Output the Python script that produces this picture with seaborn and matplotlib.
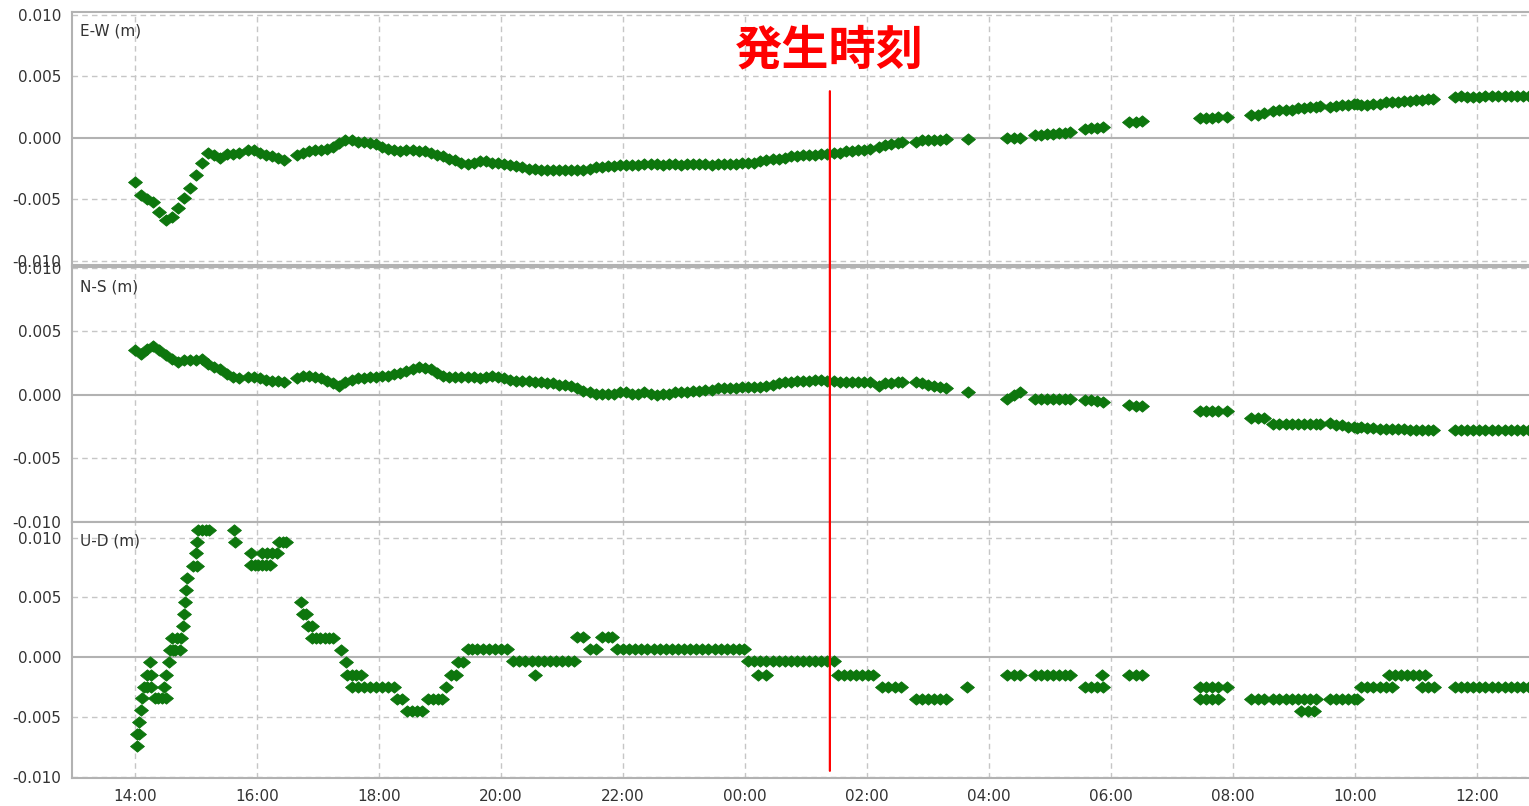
import matplotlib
matplotlib.use("Agg")
import matplotlib.pyplot as plt
import seaborn as sns
import pandas as pd
from matplotlib.patches import ConnectionPatch

# Times are hours from 00:00 of the first day (24 = 00:00, 36 = 12:00 next day).
# Displacements are in metres.

EW_T = [14.0, 14.1, 14.2, 14.3, 14.4, 14.5, 14.6, 14.7, 14.8, 14.9, 15.0, 15.1, 15.2, 15.3, 15.4, 15.5, 15.6, 15.7,
        15.85, 15.95, 16.05, 16.15, 16.25, 16.35, 16.45,
        16.65, 16.75, 16.85, 16.95, 17.05, 17.15, 17.25, 17.35, 17.45, 17.55, 17.65, 17.75, 17.85, 17.95,
        18.05, 18.15, 18.25, 18.35, 18.45, 18.55, 18.65, 18.75, 18.85, 18.95, 19.05, 19.15, 19.25, 19.35,
        19.45, 19.55, 19.65, 19.75, 19.85, 19.95, 20.05, 20.15, 20.25, 20.35, 20.45, 20.55, 20.65, 20.75,
        20.85, 20.95, 21.05, 21.15, 21.25, 21.35, 21.45, 21.55, 21.65, 21.75, 21.85, 21.95, 22.05, 22.15,
        22.25, 22.35, 22.45, 22.55, 22.65, 22.75, 22.85, 22.95, 23.05, 23.15, 23.25, 23.35, 23.45, 23.55,
        23.65, 23.75, 23.85, 23.95, 24.05, 24.15, 24.25, 24.35, 24.45, 24.55, 24.65, 24.75, 24.85, 24.95,
        25.05, 25.15, 25.25, 25.35, 25.45, 25.55, 25.65, 25.75, 25.85, 25.95, 26.05,
        26.2, 26.3, 26.4, 26.5, 26.58,
        26.8, 26.9, 27.0, 27.1, 27.2, 27.3,
        27.65,
        28.3, 28.4, 28.5,
        28.75, 28.85, 28.95, 29.05, 29.15, 29.25, 29.33,
        29.57, 29.67, 29.77, 29.87,
        30.3, 30.4, 30.5,
        31.46, 31.56, 31.66, 31.76,
        31.9,
        32.3, 32.4, 32.5,
        32.66, 32.76, 32.86, 32.96, 33.06, 33.16, 33.26, 33.36, 33.43,
        33.58, 33.68, 33.78, 33.88, 33.98, 34.03,
        34.1, 34.2, 34.3, 34.4, 34.5, 34.6, 34.7, 34.8, 34.9, 35.0, 35.1, 35.2, 35.28,
        35.63, 35.73, 35.83, 35.93, 36.03, 36.13,
        36.25, 36.35, 36.45, 36.55, 36.65, 36.75, 36.85]
EW_V = [-0.0036, -0.0046, -0.0050, -0.0052, -0.0060, -0.0067, -0.0064, -0.0057, -0.0049, -0.0041, -0.0030,
        -0.0020, -0.0012, -0.0014, -0.0016, -0.0013, -0.0013, -0.0012,
        -0.0010, -0.0010, -0.0012, -0.0014, -0.0015, -0.0016, -0.0018,
        -0.0014, -0.0012, -0.0011, -0.0010, -0.0010, -0.0009, -0.0007, -0.0004, -0.0002, -0.0002, -0.0003,
        -0.0003, -0.0004, -0.0005,
        -0.0007, -0.0009, -0.0010, -0.0011, -0.0010, -0.0010, -0.0011, -0.0011, -0.0012, -0.0014, -0.0015,
        -0.0017, -0.0018, -0.0020,
        -0.0021, -0.0020, -0.0019, -0.0019, -0.0020, -0.0020, -0.0021, -0.0022, -0.0023, -0.0024, -0.0025,
        -0.0025, -0.0026, -0.0026,
        -0.0026, -0.0026, -0.0026, -0.0026, -0.0026, -0.0026, -0.0025, -0.0024, -0.0024, -0.0023, -0.0023,
        -0.0022, -0.0022, -0.0022,
        -0.0022, -0.0021, -0.0021, -0.0021, -0.0022, -0.0021, -0.0021, -0.0022, -0.0021, -0.0021, -0.0021,
        -0.0021, -0.0022, -0.0021,
        -0.0021, -0.0021, -0.0021, -0.0020, -0.0020, -0.0020, -0.0019, -0.0018, -0.0017, -0.0017, -0.0016,
        -0.0015, -0.0015, -0.0014,
        -0.0014, -0.0014, -0.0013, -0.0013, -0.0012, -0.0012, -0.0011, -0.0011, -0.0010, -0.0010, -0.0009,
        -0.0007, -0.0006, -0.0005, -0.0004, -0.0003,
        -0.0003, -0.0002, -0.0002, -0.0002, -0.0002, -0.0001,
        -0.0001,
        0.0000, 0.0000, 0.0000,
        0.0002, 0.0002, 0.0003, 0.0003, 0.0004, 0.0004, 0.0005,
        0.0007, 0.0008, 0.0008, 0.0009,
        0.0013, 0.0013, 0.0014,
        0.0016, 0.0016, 0.0016, 0.0017,
        0.0017,
        0.0019, 0.0019, 0.0020,
        0.0022, 0.0023, 0.0023, 0.0023, 0.0024, 0.0024, 0.0025, 0.0025, 0.0026,
        0.0025, 0.0026, 0.0027, 0.0027, 0.0028, 0.0028,
        0.0027, 0.0027, 0.0028, 0.0028, 0.0029, 0.0029, 0.0029, 0.0030, 0.0030, 0.0031, 0.0031, 0.0032, 0.0032,
        0.0033, 0.0034, 0.0033, 0.0033, 0.0033, 0.0034,
        0.0034, 0.0034, 0.0034, 0.0034, 0.0034, 0.0034, 0.0034]

NS_T = EW_T
NS_V = [0.0035, 0.0032, 0.0036, 0.0038, 0.0035, 0.0031, 0.0028, 0.0026, 0.0027, 0.0027, 0.0027, 0.0028,
        0.0024, 0.0022, 0.0020, 0.0016, 0.0014, 0.0013,
        0.0014, 0.0014, 0.0013, 0.0012, 0.0011, 0.0011, 0.0010,
        0.0013, 0.0015, 0.0015, 0.0014, 0.0013, 0.0011, 0.0009, 0.0007, 0.0010, 0.0012, 0.0013, 0.0013,
        0.0014, 0.0014,
        0.0015, 0.0015, 0.0016, 0.0017, 0.0019, 0.0020, 0.0022, 0.0021, 0.0020, 0.0017, 0.0015, 0.0014,
        0.0014, 0.0014,
        0.0014, 0.0014, 0.0013, 0.0014, 0.0015, 0.0014, 0.0013, 0.0012, 0.0011, 0.0011, 0.0011, 0.0010,
        0.0010, 0.0009,
        0.0009, 0.0008, 0.0008, 0.0007, 0.0005, 0.0003, 0.0002, 0.0001, 0.0001, 0.0001, 0.0001, 0.0002,
        0.0002, 0.0001,
        0.0001, 0.0002, 0.0001, 0.0000, 0.0001, 0.0001, 0.0002, 0.0002, 0.0002, 0.0003, 0.0003, 0.0004,
        0.0004, 0.0005,
        0.0005, 0.0005, 0.0005, 0.0006, 0.0006, 0.0006, 0.0006, 0.0007, 0.0008, 0.0009, 0.0010, 0.0010,
        0.0011, 0.0011,
        0.0011, 0.0012, 0.0012, 0.0011, 0.0011, 0.0010, 0.0010, 0.0010, 0.0010, 0.0010, 0.0010,
        0.0007, 0.0009, 0.0009, 0.0010, 0.0010,
        0.0010, 0.0009, 0.0008, 0.0007, 0.0006, 0.0005,
        0.0002,
        -0.0003, 0.0000, 0.0002,
        -0.0003, -0.0003, -0.0003, -0.0003, -0.0003, -0.0003, -0.0003,
        -0.0004, -0.0004, -0.0005, -0.0006,
        -0.0008, -0.0009, -0.0009,
        -0.0013, -0.0013, -0.0013, -0.0013,
        -0.0013,
        -0.0018, -0.0018, -0.0018,
        -0.0023, -0.0023, -0.0023, -0.0023, -0.0023, -0.0023, -0.0023, -0.0023, -0.0023,
        -0.0022, -0.0024, -0.0024, -0.0025, -0.0025, -0.0026,
        -0.0025, -0.0026, -0.0026, -0.0027, -0.0027, -0.0027, -0.0027, -0.0027, -0.0028, -0.0028, -0.0028,
        -0.0028, -0.0028,
        -0.0028, -0.0028, -0.0028, -0.0028, -0.0028, -0.0028,
        -0.0028, -0.0028, -0.0028, -0.0028, -0.0028, -0.0028, -0.0028]

UD_T = [14.03, 14.03, 14.07, 14.06, 14.10, 14.12, 14.14, 14.20, 14.26, 14.20, 14.27, 14.25,
        14.32, 14.38, 14.44, 14.50, 14.47, 14.50, 14.55, 14.57, 14.62, 14.66, 14.60, 14.68, 14.73, 14.76,
        14.78, 14.80, 14.82, 14.84, 14.86, 14.95, 15.02, 15.00, 15.02, 15.04, 15.10, 15.16, 15.22,
        15.62, 15.64,
        15.90, 15.90, 15.96, 16.02, 16.08, 16.14, 16.22, 16.08, 16.16, 16.24, 16.32, 16.36, 16.42, 16.48,
        16.72, 16.76, 16.80, 16.84, 16.90, 16.90, 16.97, 17.04, 17.11, 17.18, 17.25,
        17.38, 17.46, 17.48, 17.55, 17.62, 17.70, 17.55, 17.65, 17.75, 17.85, 17.95, 18.05, 18.15, 18.25,
        18.30, 18.38, 18.46, 18.54, 18.62, 18.70, 18.80, 18.88, 18.96, 19.04, 19.10, 19.18, 19.26, 19.30,
        19.38, 19.46, 19.52, 19.60, 19.70, 19.80, 19.90, 20.00, 20.10,
        20.20, 20.30, 20.40, 20.50, 20.60, 20.70, 20.80, 20.90, 21.00, 21.10, 21.20, 20.55,
        21.25, 21.35, 21.45, 21.55, 21.65, 21.75, 21.82,
        21.90, 22.00, 22.10, 22.20, 22.30, 22.40, 22.50, 22.60, 22.70, 22.80, 22.90, 23.00, 23.10, 23.20,
        23.30, 23.40, 23.50, 23.60, 23.70, 23.80, 23.90, 23.98,
        24.05, 24.15, 24.25, 24.35, 24.45, 24.55, 24.65, 24.75, 24.85, 24.95, 25.05, 25.15, 25.25, 25.35,
        25.45, 24.22, 24.35,
        25.52, 25.62, 25.72, 25.82, 25.92, 26.02, 26.10,
        26.25, 26.35, 26.45, 26.55,
        26.80, 26.90, 27.00, 27.10, 27.20, 27.30,
        27.64,
        28.30, 28.40, 28.50,
        28.75, 28.85, 28.95, 29.05, 29.15, 29.25, 29.33,
        29.57, 29.67, 29.77, 29.85, 29.87,
        30.30, 30.40, 30.50,
        31.46, 31.56, 31.66, 31.76, 31.46, 31.56, 31.66, 31.76,
        31.90,
        32.30, 32.40, 32.50,
        32.66, 32.76, 32.86, 32.96, 33.06, 33.16, 33.26, 33.36, 33.12, 33.22, 33.32,
        33.58, 33.68, 33.78, 33.88, 33.98, 34.03,
        34.10, 34.20, 34.30, 34.40, 34.50, 34.60,
        34.55, 34.65, 34.75, 34.85, 34.95, 35.05, 35.15,
        35.10, 35.20, 35.30,
        35.63, 35.73, 35.83, 35.93, 36.03, 36.13,
        36.25, 36.35, 36.45, 36.55, 36.65, 36.75, 36.85]
UD_V = [-0.0074, -0.0064, -0.0064, -0.0054, -0.0044, -0.0034, -0.0025, -0.0025, -0.0025, -0.0015, -0.0015, -0.0004,
        -0.0034, -0.0034, -0.0034, -0.0034, -0.0025, -0.0015, -0.0004, 0.0006, 0.0006, 0.0006, 0.0016, 0.0016,
        0.0006, 0.0016,
        0.0026, 0.0036, 0.0046, 0.0056, 0.0066, 0.0076, 0.0076, 0.0087, 0.0096, 0.0106, 0.0106, 0.0106, 0.0106,
        0.0106, 0.0096,
        0.0087, 0.0077, 0.0077, 0.0077, 0.0077, 0.0077, 0.0077, 0.0087, 0.0087, 0.0087, 0.0087, 0.0096, 0.0096,
        0.0096,
        0.0046, 0.0036, 0.0036, 0.0026, 0.0026, 0.0016, 0.0016, 0.0016, 0.0016, 0.0016, 0.0016,
        0.0006, -0.0004, -0.0015, -0.0015, -0.0015, -0.0015, -0.0025, -0.0025, -0.0025, -0.0025, -0.0025,
        -0.0025, -0.0025, -0.0025,
        -0.0035, -0.0035, -0.0045, -0.0045, -0.0045, -0.0045, -0.0035, -0.0035, -0.0035, -0.0035, -0.0025,
        -0.0015, -0.0015, -0.0004,
        -0.0004, 0.0007, 0.0007, 0.0007, 0.0007, 0.0007, 0.0007, 0.0007, 0.0007,
        -0.0003, -0.0003, -0.0003, -0.0003, -0.0003, -0.0003, -0.0003, -0.0003, -0.0003, -0.0003, -0.0003, -0.0015,
        0.0017, 0.0017, 0.0007, 0.0007, 0.0017, 0.0017, 0.0017,
        0.0007, 0.0007, 0.0007, 0.0007, 0.0007, 0.0007, 0.0007, 0.0007, 0.0007, 0.0007, 0.0007, 0.0007, 0.0007,
        0.0007, 0.0007, 0.0007, 0.0007, 0.0007, 0.0007, 0.0007, 0.0007, 0.0007,
        -0.0003, -0.0003, -0.0003, -0.0003, -0.0003, -0.0003, -0.0003, -0.0003, -0.0003, -0.0003, -0.0003,
        -0.0003, -0.0003, -0.0003, -0.0003, -0.0015, -0.0015,
        -0.0015, -0.0015, -0.0015, -0.0015, -0.0015, -0.0015, -0.0015,
        -0.0025, -0.0025, -0.0025, -0.0025,
        -0.0035, -0.0035, -0.0035, -0.0035, -0.0035, -0.0035,
        -0.0025,
        -0.0015, -0.0015, -0.0015,
        -0.0015, -0.0015, -0.0015, -0.0015, -0.0015, -0.0015, -0.0015,
        -0.0025, -0.0025, -0.0025, -0.0015, -0.0025,
        -0.0015, -0.0015, -0.0015,
        -0.0025, -0.0025, -0.0025, -0.0025, -0.0035, -0.0035, -0.0035, -0.0035,
        -0.0025,
        -0.0035, -0.0035, -0.0035,
        -0.0035, -0.0035, -0.0035, -0.0035, -0.0035, -0.0035, -0.0035, -0.0035, -0.0045, -0.0045, -0.0045,
        -0.0035, -0.0035, -0.0035, -0.0035, -0.0035, -0.0035,
        -0.0025, -0.0025, -0.0025, -0.0025, -0.0025, -0.0025,
        -0.0015, -0.0015, -0.0015, -0.0015, -0.0015, -0.0015, -0.0015,
        -0.0025, -0.0025, -0.0025,
        -0.0025, -0.0025, -0.0025, -0.0025, -0.0025, -0.0025,
        -0.0025, -0.0025, -0.0025, -0.0025, -0.0025, -0.0025, -0.0025]

PANEL_LABELS = ["E-W (m)", "N-S (m)", "U-D (m)"]
TICK_HOURS = [14, 16, 18, 20, 22, 24, 26, 28, 30, 32, 34, 36]
TICK_LABELS = ["14:00", "16:00", "18:00", "20:00", "22:00", "00:00",
               "02:00", "04:00", "06:00", "08:00", "10:00", "12:00"]
Y_TICKS = [-0.010, -0.005, 0.000, 0.005, 0.010]
EVENT_HOUR = 25.39
EVENT_LABEL = "発生時刻"

GREEN = "#0d760d"
GRID = "#c6c6c6"
FRAME = "#b2b2b2"
TEXT = "#333333"

# Slightly flattened diamond drawn at every epoch
FLAT_DIAMOND = [(-1.0, 0.0), (0.0, 0.82), (1.0, 0.0), (0.0, -0.82), (-1.0, 0.0)]

sns.set_theme(style="white")
plt.rcParams["font.family"] = ["DejaVu Sans", "Noto Sans CJK JP"]
plt.rcParams["axes.unicode_minus"] = False

fig = plt.figure(figsize=(15.29, 8.06), dpi=100)
W, H = 1529.0, 806.0
left = 72 / W
# (top pixel, bottom pixel, y limits) for each panel
panels = [
    (12, 265, (-0.01033, 0.01024)),
    (267, 522, (-0.0100, 0.01005)),
    (522, 778, (-0.0101, 0.0113)),
]
series = [(EW_T, EW_V), (NS_T, NS_V), (UD_T, UD_V)]

axes = []
for i, ((top, bot, ylim), (t, v)) in enumerate(zip(panels, series)):
    ax = fig.add_axes([left, 1 - bot / H, 1 - left, (bot - top) / H])
    axes.append(ax)
    df = pd.DataFrame({"hour": t, "disp": v})
    ax.set_xlim(12.967, 36.85)
    ax.set_ylim(*ylim)
    ax.set_yticks(Y_TICKS, [f"{y:.3f}" for y in Y_TICKS])
    ax.set_xticks(TICK_HOURS, TICK_LABELS if i == 2 else [])
    for h in TICK_HOURS:
        ax.axvline(h, color=GRID, lw=1.0, ls=(0, (4, 3)), zorder=0)
    for y in Y_TICKS:
        if y == 0:
            ax.axhline(y, color=FRAME, lw=1.5, zorder=0)
        else:
            ax.axhline(y, color=GRID, lw=1.0, ls=(0, (4, 3)), zorder=0)
    sns.scatterplot(data=df, x="hour", y="disp", ax=ax, marker=FLAT_DIAMOND, s=100,
                    color=GREEN, edgecolor=GREEN, linewidth=0.6, zorder=3, legend=False)
    ax.set_xlabel("")
    ax.set_ylabel("")
    ax.tick_params(axis="both", length=0, labelsize=11, labelcolor=TEXT)
    ax.tick_params(axis="y", pad=8)
    ax.tick_params(axis="x", pad=8)
    for side, sp in ax.spines.items():
        sp.set_color(FRAME)
        sp.set_linewidth(1.5)
    ax.spines["right"].set_visible(False)
    ax.annotate(PANEL_LABELS[i], xy=(0, 1), xycoords="axes fraction",
                xytext=(8, -12), textcoords="offset pixels", ha="left", va="top",
                fontsize=11, color=TEXT)

# Event marker spanning all three panels
line = ConnectionPatch(xyA=(EVENT_HOUR, 0.0038), coordsA=axes[0].transData,
                       xyB=(EVENT_HOUR, -0.0095), coordsB=axes[2].transData,
                       color="#ff0000", lw=1.6, zorder=10)
fig.add_artist(line)
axes[0].text(EVENT_HOUR, 0.0071, EVENT_LABEL, ha="center", va="center",
             fontsize=34, fontweight="bold", color="#ff0000",
             family=["Noto Sans CJK JP", "DejaVu Sans"], zorder=11)

fig.savefig("out.png", dpi=100, facecolor="white")
